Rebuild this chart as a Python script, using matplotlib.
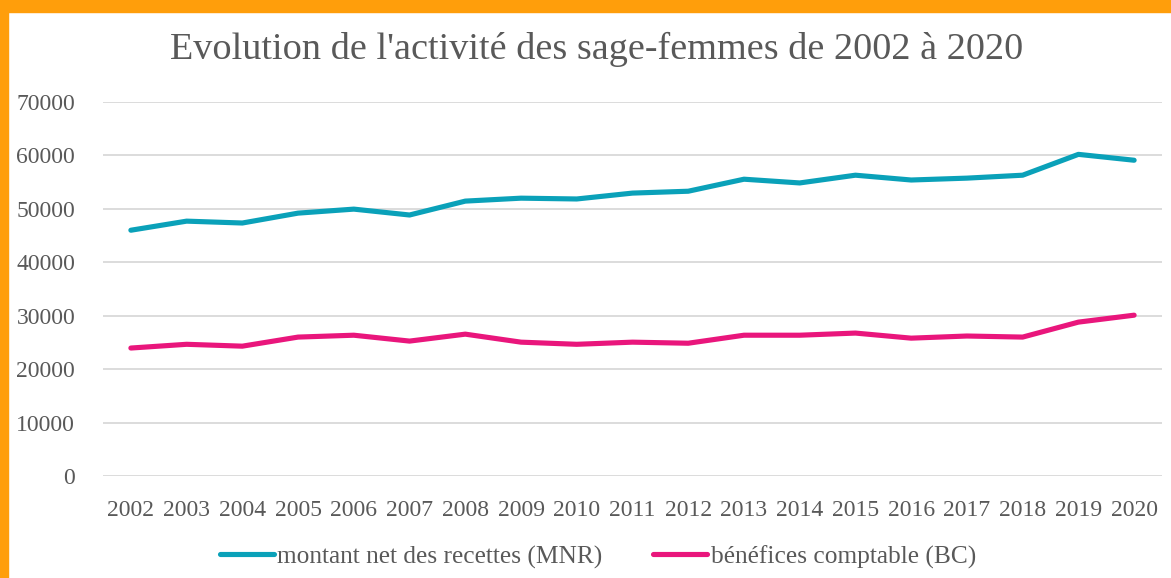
import numpy as np
import matplotlib.pyplot as plt
from matplotlib.patches import Rectangle

years = [str(y) for y in range(2002, 2021)]
mnr = [46000, 47700, 47350, 49200, 49950, 48850, 51450, 52000, 51850, 52950,
       53300, 55550, 54850, 56300, 55400, 55750, 56300, 60200, 59100]
bc = [23950, 24650, 24300, 26000, 26350, 25250, 26550, 25050, 24650, 25050,
      24850, 26350, 26350, 26750, 25800, 26200, 26000, 28800, 30100]

W, H = 1171, 578
fig = plt.figure(figsize=(W/100, H/100), dpi=100)
plt.rcParams['font.family'] = ['Liberation Serif', 'DejaVu Serif']
grey = '#595959'

# orange frame (top and left)
fig.patches.append(Rectangle((0, 1-12/H), 1, 12/H, transform=fig.transFigure,
                             color='#ff9e0b', zorder=10))
fig.patches.append(Rectangle((0, 0), 8/W, 1, transform=fig.transFigure,
                             color='#ff9e0b', zorder=10))

ax = fig.add_axes([103/W, 1-476/H, (1162-103)/W, (476-102)/H])
x = np.arange(len(years))
ax.plot(x, mnr, color='#0aa1b9', lw=3.7, solid_capstyle='round',
        label='montant net des recettes (MNR)', zorder=3)
ax.plot(x, bc, color='#e9167c', lw=3.7, solid_capstyle='round',
        label='bénéfices comptable (BC)', zorder=3)

ax.set_xlim(-0.5, len(years)-0.5)
ax.set_ylim(0, 70000)
ax.set_yticks(range(0, 70001, 10000))
ax.set_xticks(x)
ax.set_xticklabels(years)
ax.yaxis.grid(True, color='#d9d9d9', lw=1.3)
ax.set_axisbelow(True)
for s in ax.spines.values():
    s.set_visible(False)
ax.tick_params(axis='x', length=0, labelsize=17, colors=grey, pad=17)
ax.tick_params(axis='y', length=0, labelsize=17, colors=grey, pad=20)

fig.text(597/W, 1-49/H, "Evolution de l'activité des sage-femmes de 2002 à 2020",
         ha='center', va='center', fontsize=27.5, color=grey)

leg = fig.legend(loc='center', bbox_to_anchor=(598/W, 1-557/H), ncol=2,
                 frameon=False, fontsize=18.3, handlelength=2.1,
                 handletextpad=0.15, columnspacing=2.0)
for t in leg.get_texts():
    t.set_color(grey)

fig.savefig('out.png', dpi=100, facecolor='white')
